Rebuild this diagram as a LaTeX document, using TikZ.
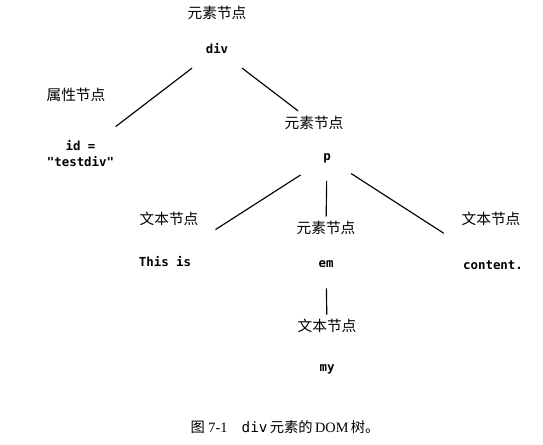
\documentclass[tikz,border=0pt]{standalone}
\usepackage{fontspec}
\setmainfont{Liberation Serif}
\newfontfamily\cjk{Noto Sans CJK SC}
\newfontfamily\codefont{DejaVu Sans Mono}

\tikzset{
  kind/.style={font=\cjk\fontsize{10.3}{12}\selectfont, inner sep=1pt},
  code/.style={font=\codefont\bfseries\fontsize{8.7}{11.5}\selectfont, inner sep=1pt, align=center},
  branch/.style={line width=0.8pt}
}

\begin{document}
\begin{tikzpicture}[x=0.7pt,y=-0.7pt]
\useasboundingbox (0,0) rectangle (543,444);

\node[kind] (divkind) at (217,13) {元素节点};
\node[code] (div) at (217,49) {div};

\node[kind] (idkind) at (76,95) {属性节点};
\node[code] (idval) at (80.5,153.5) {id =\\"testdiv"};

\node[kind] (pkind) at (314,123) {元素节点};
\node[code] (p) at (327,158) {p};

\node[kind] (thiskind) at (169,219) {文本节点};
\node[code] (this) at (165,262) {This is};

\node[kind] (emkind) at (326,228) {元素节点};
\node[code] (em) at (326,264) {em};

\node[kind] (contkind) at (491,219) {文本节点};
\node[code] (cont) at (493,265) {content.};

\node[kind] (mykind) at (327,326) {文本节点};
\node[code] (my) at (327,369) {my};

\draw[branch, shorten <=22pt, shorten >=31pt] (div.center) -- (idval.center);
\draw[branch, shorten <=22pt, shorten >=14pt] (div.center) -- (pkind.center);
\draw[branch, shorten <=22pt, shorten >=42pt] (p.center) -- (this.center);
\draw[branch, shorten <=16pt, shorten >=8pt] (p.center) -- (emkind.center);
\draw[branch, shorten <=20pt, shorten >=41pt] (p.center) -- (cont.center);
\draw[branch, shorten <=17pt, shorten >=8pt] (em.center) -- (mykind.center);

% caption
\node[font=\fontsize{10}{12}\selectfont] (caption) at (285,427)
  {{\cjk 图} 7-1\quad {\codefont div}\,{\cjk 元素的}\,DOM\,{\cjk 树。}};
\end{tikzpicture}
\end{document}
